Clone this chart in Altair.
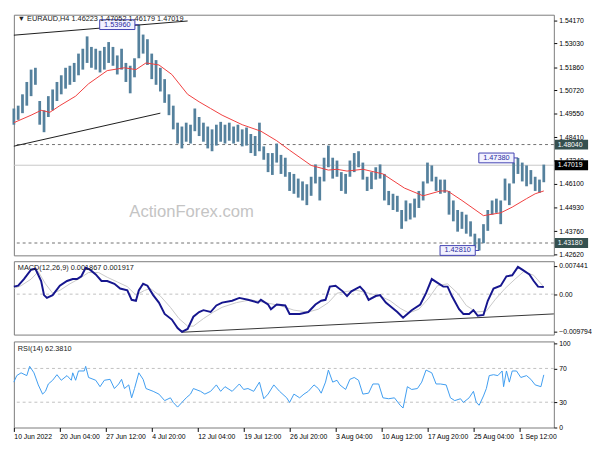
import altair as alt
import pandas as pd

# ---------------- data ----------------
# price bars (every 3rd H4 bar), high / low
bar_high = [
    1.4982, 1.4996, 1.5052, 1.5113, 1.5174, 1.5183, 1.5019, 1.4973, 1.5043, 1.5076,
    1.5113, 1.5146, 1.5183, 1.5193, 1.5207, 1.5253, 1.5277, 1.5338, 1.5286, 1.5277,
    1.5267, 1.5286, 1.5310, 1.5286, 1.5244, 1.5277, 1.5207, 1.5193, 1.5230, 1.5396,
    1.5347, 1.5324, 1.5253, 1.5221, 1.5183, 1.5127, 1.5052, 1.4996, 1.4912, 1.4893,
    1.4912, 1.4902, 1.4982, 1.4940, 1.4912, 1.4893, 1.4879, 1.4902, 1.4916, 1.4902,
    1.4912, 1.4893, 1.4902, 1.4879, 1.4888, 1.4856, 1.4846, 1.4912, 1.4795, 1.4762,
    1.4762, 1.4809, 1.4753, 1.4739, 1.4668, 1.4659, 1.4636, 1.4622, 1.4608, 1.4645,
    1.4706, 1.4645, 1.4739, 1.4799, 1.4739, 1.4725, 1.4668, 1.4659, 1.4725, 1.4762,
    1.4771, 1.4715, 1.4645, 1.4668, 1.4692, 1.4706, 1.4659, 1.4575, 1.4561, 1.4551,
    1.4481, 1.4528, 1.4514, 1.4537, 1.4575, 1.4622, 1.4715, 1.4701, 1.4645, 1.4631,
    1.4631, 1.4575, 1.4528, 1.4481, 1.4472, 1.4458, 1.4425, 1.4364, 1.4341, 1.4411,
    1.4481, 1.4528, 1.4537, 1.4528, 1.4636, 1.4612, 1.4715, 1.4738, 1.4715, 1.4701,
    1.4678, 1.4645, 1.4631, 1.4705]
bar_low = [
    1.4902, 1.4926, 1.4959, 1.4996, 1.5043, 1.5099, 1.4902, 1.4865, 1.4940, 1.4973,
    1.5019, 1.5052, 1.5080, 1.5099, 1.5113, 1.5146, 1.5174, 1.5207, 1.5183, 1.5174,
    1.5160, 1.5174, 1.5207, 1.5193, 1.5150, 1.5174, 1.5113, 1.5057, 1.5136, 1.5230,
    1.5253, 1.5197, 1.5127, 1.5099, 1.5066, 1.5010, 1.4949, 1.4879, 1.4809, 1.4785,
    1.4818, 1.4809, 1.4870, 1.4846, 1.4818, 1.4785, 1.4771, 1.4799, 1.4818, 1.4809,
    1.4823, 1.4809, 1.4818, 1.4795, 1.4799, 1.4762, 1.4748, 1.4771, 1.4729, 1.4668,
    1.4654, 1.4715, 1.4659, 1.4645, 1.4575, 1.4561, 1.4542, 1.4528, 1.4505, 1.4551,
    1.4612, 1.4528, 1.4622, 1.4692, 1.4636, 1.4645, 1.4575, 1.4561, 1.4645, 1.4668,
    1.4692, 1.4631, 1.4575, 1.4584, 1.4631, 1.4636, 1.4528, 1.4505, 1.4481, 1.4472,
    1.4388, 1.4425, 1.4434, 1.4444, 1.4491, 1.4528, 1.4612, 1.4622, 1.4575, 1.4561,
    1.4566, 1.4458, 1.4425, 1.4374, 1.4388, 1.4364, 1.4350, 1.4294, 1.4281, 1.4317,
    1.4378, 1.4458, 1.4467, 1.4411, 1.4528, 1.4505, 1.4612, 1.4659, 1.4622, 1.4598,
    1.4608, 1.4575, 1.4566, 1.4618]
BAR_STEP = 3  # H4 bars between two drawn bars

# moving average (bar index, price)
ma_points = [
    (0, 1.4912), (12, 1.4949), (19, 1.4973), (25, 1.4963), (32, 1.4996), (43, 1.5043),
    (52, 1.5104), (65, 1.5169), (77, 1.5183), (85, 1.5174), (92, 1.5207), (101, 1.5197),
    (110, 1.5150), (121, 1.5052), (129, 1.5015), (137, 1.4982), (145, 1.4949), (159, 1.4902),
    (172, 1.4870), (183, 1.4823), (192, 1.4776), (207, 1.4701), (219, 1.4678), (225, 1.4682),
    (232, 1.4673), (243, 1.4682), (257, 1.4659), (272, 1.4589), (285, 1.4551), (297, 1.4575),
    (302, 1.4575), (312, 1.4528), (327, 1.4453), (339, 1.4467), (347, 1.4495), (357, 1.4537),
    (363, 1.4561), (369, 1.4575)]

# MACD main line (bar index, value)
macd_points = [
    (0, 0.00198), (3, 0.00223), (7, 0.00397), (12, 0.00645), (15, 0.00670), (19, 0.00347),
    (21, -0.00025), (23, -0.00099), (27, -0.00025), (32, 0.00223), (37, 0.00347), (41, 0.00397),
    (44, 0.00397), (47, 0.00471), (50, 0.00694), (53, 0.00645), (57, 0.00521), (61, 0.00347),
    (65, 0.00347), (70, 0.00273), (74, 0.00149), (79, 0.00099), (82, -0.00149), (85, -0.00174),
    (87, 0.00099), (90, 0.00273), (93, 0.00223), (97, -0.00025), (101, -0.00223), (105, -0.00521),
    (110, -0.00670), (114, -0.00893), (117, -0.00992), (121, -0.00918), (125, -0.00595),
    (129, -0.00471), (132, -0.00422), (137, -0.00471), (141, -0.00298), (145, -0.00223),
    (152, -0.00174), (157, -0.00099), (163, -0.00149), (170, -0.00223), (172, -0.00149),
    (177, -0.00273), (179, -0.00397), (183, -0.00273), (189, -0.00298), (192, -0.00521),
    (199, -0.00521), (205, -0.00471), (210, -0.00273), (214, -0.00174), (217, -0.00149),
    (220, 0.00198), (224, 0.00223), (229, 0.00074), (232, -0.00050), (235, 0.00074),
    (241, 0.00198), (244, 0.00074), (247, -0.00149), (252, -0.00050), (255, -0.00025),
    (259, -0.00223), (263, -0.00347), (267, -0.00471), (271, -0.00620), (274, -0.00521),
    (277, -0.00422), (283, -0.00273), (287, 0.00025), (291, 0.00397), (294, 0.00322),
    (299, 0.00198), (302, 0.00198), (305, -0.00050), (310, -0.00397), (313, -0.00521),
    (317, -0.00521), (320, -0.00422), (323, -0.00570), (327, -0.00546), (330, -0.00174),
    (334, 0.00149), (339, 0.00223), (343, 0.00471), (347, 0.00496), (351, 0.00719),
    (354, 0.00645), (359, 0.00521), (362, 0.00347), (365, 0.00198), (369, 0.00187)]

# MACD signal line (bar index, value)
signal_points = [
    (0, 0.00149), (5, 0.00223), (12, 0.00397), (17, 0.00595), (22, 0.00273), (27, 0.00025),
    (32, 0.00099), (39, 0.00273), (45, 0.00397), (52, 0.00570), (59, 0.00570), (65, 0.00446),
    (72, 0.00322), (79, 0.00198), (85, -0.00025), (91, 0.00099), (95, 0.00149), (102, -0.00050),
    (109, -0.00347), (115, -0.00645), (121, -0.00843), (125, -0.00843), (132, -0.00645),
    (139, -0.00471), (145, -0.00347), (155, -0.00223), (165, -0.00149), (175, -0.00223),
    (185, -0.00298), (195, -0.00422), (205, -0.00471), (212, -0.00397), (219, -0.00223),
    (225, 0.00025), (232, 0.00074), (239, 0.00099), (247, 0.00025), (255, -0.00050),
    (262, -0.00174), (269, -0.00372), (275, -0.00496), (282, -0.00397), (289, -0.00099),
    (295, 0.00223), (302, 0.00273), (309, 0.00025), (315, -0.00298), (322, -0.00471),
    (329, -0.00446), (335, -0.00149), (342, 0.00149), (349, 0.00397), (355, 0.00595),
    (362, 0.00496), (369, 0.00192)]

# RSI(14) (bar index, value)
rsi_points = [
    (0, 53.8), (2, 61.5), (5, 64.8), (9, 61.5), (11, 72.5), (14, 64.8), (17, 50.5), (20, 39.6),
    (22, 42.9), (24, 51.6), (27, 56.0), (30, 62.6), (33, 56.0), (37, 61.5), (40, 56.0),
    (41, 64.8), (43, 56.0), (45, 67.0), (49, 67.0), (50, 72.5), (52, 59.3), (57, 56.0),
    (60, 48.4), (63, 56.0), (67, 57.1), (70, 46.2), (73, 51.6), (75, 57.1), (77, 46.2),
    (80, 50.5), (82, 35.2), (84, 46.2), (87, 64.8), (90, 57.1), (92, 46.2), (97, 42.9),
    (101, 39.6), (105, 31.9), (109, 35.2), (111, 29.7), (114, 24.2), (117, 29.7), (120, 35.2),
    (123, 39.6), (125, 46.2), (130, 42.9), (133, 39.6), (137, 42.9), (141, 50.5), (144, 42.9),
    (147, 48.4), (152, 42.9), (157, 51.6), (160, 45.1), (163, 46.2), (167, 42.9), (171, 53.8),
    (174, 34.1), (177, 39.6), (181, 50.5), (185, 42.9), (190, 35.2), (192, 29.7), (195, 39.6),
    (199, 35.2), (202, 39.6), (205, 42.9), (209, 50.5), (212, 46.2), (214, 40.7), (217, 53.8),
    (219, 68.1), (222, 53.8), (225, 56.0), (227, 50.5), (231, 45.1), (234, 57.1), (237, 59.3),
    (240, 56.0), (243, 39.6), (247, 40.7), (250, 51.6), (254, 51.6), (257, 35.2), (261, 34.1),
    (265, 35.2), (269, 26.4), (271, 23.1), (274, 48.4), (277, 45.1), (281, 46.2), (284, 53.8),
    (287, 68.1), (291, 64.8), (294, 51.6), (297, 51.6), (301, 50.5), (304, 35.2), (307, 31.9),
    (311, 34.1), (313, 29.7), (317, 35.2), (320, 42.9), (322, 29.7), (324, 26.4), (327, 37.4),
    (329, 46.2), (331, 61.5), (334, 62.6), (337, 61.5), (340, 67.0), (341, 48.4), (343, 67.0),
    (345, 53.8), (347, 67.0), (350, 67.0), (353, 59.3), (357, 61.5), (360, 57.1), (363, 50.5),
    (367, 48.4), (369, 62.4)]

# trend lines (id, bar index, value)
price_trend = [("up", 0, 1.5344), ("up", 121, 1.5414), ("lo", 0, 1.4796), ("lo", 102, 1.4959)]
macd_trend = [("m", 117, -0.01004), ("m", 376, -0.00521)]

# marked extremes
ext_index = [87, 351, 324]
ext_price = [1.5396, 1.4738, 1.4281]
ext_text = ["1.53960", "1.47380", "1.42810"]

# horizontal levels
dashed_levels = [1.4804, 1.4318]
last_price = 1.47019
level_price = [1.4804, 1.47019, 1.4318]
level_text = ["1.48040", "1.47019", "1.43180"]
level_fill = ["#35504f", "#000000", "#35504f"]

price_ticks = [1.5417, 1.5303, 1.5186, 1.5072, 1.4955, 1.4841, 1.4724, 1.4610, 1.4493, 1.4376, 1.4262]
macd_ticks = [0.007441, 0.0, -0.009794]
rsi_ticks = [100, 70, 30, 0]
rsi_levels = [70, 30]

x_ticks = [0, 32, 64, 96, 128, 160, 192, 224, 256, 288, 320, 352]
x_labels = ["10 Jun 2022", "20 Jun 04:00", "27 Jun 12:00", "4 Jul 20:00", "12 Jul 04:00",
            "19 Jul 12:00", "26 Jul 20:00", "3 Aug 04:00", "10 Aug 12:00", "17 Aug 20:00",
            "25 Aug 04:00", "1 Sep 12:00"]

header_main = "\u25bc  EURAUD,H4  1.46223 1.47052 1.46179 1.47019"
header_macd = "MACD(12,26,9) 0.001867 0.001917"
header_rsi = "RSI(14) 62.3810"
watermark = "ActionForex.com"

# ---------------- chart ----------------
W = 552
H_MAIN, H_MACD, H_RSI = 246, 75, 88
FONT = "Liberation Sans"

bars = pd.DataFrame({"i": [BAR_STEP * k for k in range(len(bar_high))],
                     "high": bar_high, "low": bar_low})
ma = pd.DataFrame(ma_points, columns=["i", "v"])
macd = pd.DataFrame(macd_points, columns=["i", "v"])
sig = pd.DataFrame(signal_points, columns=["i", "v"])
rsi = pd.DataFrame(rsi_points, columns=["i", "v"])
ptrend = pd.DataFrame(price_trend, columns=["id", "i", "v"])
mtrend = pd.DataFrame(macd_trend, columns=["id", "i", "v"])
ext = pd.DataFrame({"i": ext_index, "v": ext_price, "t": ext_text})
lev = pd.DataFrame({"v": level_price, "t": level_text, "fill": level_fill})

xs = alt.Scale(domain=[0, 376], nice=False, zero=False)
X_NONE = alt.X("i:Q", scale=xs, axis=None)

label_arr = "[" + ",".join("'" + s + "'" for s in x_labels) + "]"
x_axis = alt.Axis(values=x_ticks, labelExpr=label_arr + "[round(datum.value/32)]",
                  orient="bottom", tickSize=4, labelAlign="left", labelPadding=1,
                  labelFontSize=7, labelColor="black", tickColor="black", domain=False,
                  grid=False, labelFlush=False, labelOverlap=False, labelBound=False, title=None)
X_AX = alt.X("i:Q", scale=xs, axis=x_axis)

p_scale = alt.Scale(domain=[1.4257, 1.5445], nice=False, zero=False)
p_axis = alt.Axis(orient="right", values=price_ticks, format=".5f", tickSize=3,
                  labelFontSize=7, labelColor="black", tickColor="black", domain=False,
                  grid=False, title=None, labelPadding=2)


def PY(f):
    return alt.Y(f, type="quantitative", scale=p_scale, axis=p_axis)


def text_layer(txt, x, y, size=7.5, color="#202020", **kw):
    return alt.Chart(pd.DataFrame({"t": [txt]})).mark_text(
        align="left", baseline="middle", fontSize=size, color=color, font=FONT, **kw
    ).encode(x=alt.value(x), y=alt.value(y), text="t:N")


main = alt.layer(
    text_layer(watermark, 118, 202, size=17, color="#c4c4c4"),
    alt.Chart(pd.DataFrame({"v": dashed_levels})).mark_rule(
        color="#707070", strokeDash=[3, 3], strokeWidth=1).encode(y=PY("v")),
    alt.Chart(pd.DataFrame({"v": [last_price]})).mark_rule(
        color="#c8c8c8", strokeWidth=1).encode(y=PY("v")),
    alt.Chart(bars).mark_rule(color="#55819d", strokeWidth=2.8).encode(
        x=X_NONE, y=PY("low"), y2="high:Q"),
    alt.Chart(ma).mark_line(color="#f03c3c", strokeWidth=1).encode(x=X_NONE, y=PY("v")),
    alt.Chart(ptrend).mark_line(color="#1a1a1a", strokeWidth=1).encode(
        x=X_NONE, y=PY("v"), detail="id:N"),
    alt.Chart(ext).mark_rule(color="#3f3fb0", strokeWidth=1, xOffset=-4, x2Offset=0).encode(
        x=X_NONE, x2="i:Q", y=PY("v")),
    alt.Chart(ext).mark_rect(fill="#f2f2ff", stroke="#3f3fb0", strokeWidth=1,
                             xOffset=-40, x2Offset=-4, yOffset=-5, y2Offset=5).encode(
        x=X_NONE, x2="i:Q", y=PY("v"), y2="v:Q"),
    alt.Chart(ext).mark_text(dx=-22, fontSize=7.5, color="#2a2aa0", font=FONT,
                             align="center", baseline="middle").encode(
        x=X_NONE, y=PY("v"), text="t:N"),
    alt.Chart(lev).mark_rect(yOffset=-5, y2Offset=5).encode(
        x=alt.value(W + 1), x2=alt.value(W + 35), y=PY("v"), y2="v:Q",
        fill=alt.Color("fill:N", scale=None)),
    alt.Chart(lev).mark_text(align="left", baseline="middle", fontSize=7, color="white",
                             font=FONT).encode(x=alt.value(W + 4), y=PY("v"), text="t:N"),
    text_layer(header_main, 4, 4.5),
).properties(width=W, height=H_MAIN)

m_scale = alt.Scale(domain=[-0.01066, 0.00868], nice=False, zero=False)
m_axis = alt.Axis(orient="right", values=macd_ticks,
                  labelExpr="datum.value == 0 ? '0.00' : format(datum.value, '.6f')",
                  tickSize=3, labelFontSize=7, labelColor="black", tickColor="black",
                  domain=False, grid=False, title=None, labelPadding=2)


def MY(f):
    return alt.Y(f, type="quantitative", scale=m_scale, axis=m_axis)


macd_panel = alt.layer(
    alt.Chart(pd.DataFrame({"v": [0.0]})).mark_rule(
        color="#c0c0c0", strokeDash=[3, 3], strokeWidth=1).encode(y=MY("v")),
    alt.Chart(mtrend).mark_line(color="#333333", strokeWidth=1).encode(x=X_NONE, y=MY("v")),
    alt.Chart(sig).mark_line(color="#c8c8c8", strokeWidth=1).encode(x=X_NONE, y=MY("v")),
    alt.Chart(macd).mark_line(color="#16168e", strokeWidth=2).encode(x=X_NONE, y=MY("v")),
    text_layer(header_macd, 4, 7),
).properties(width=W, height=H_MACD)

r_scale = alt.Scale(domain=[0, 102], nice=False, zero=False)
r_axis = alt.Axis(orient="right", values=rsi_ticks, format="d", tickSize=3,
                  labelFontSize=7, labelColor="black", tickColor="black",
                  domain=False, grid=False, title=None, labelPadding=2)


def RY(f):
    return alt.Y(f, type="quantitative", scale=r_scale, axis=r_axis)


rsi_panel = alt.layer(
    alt.Chart(pd.DataFrame({"v": rsi_levels})).mark_rule(
        color="#c0c0c0", strokeDash=[3, 3], strokeWidth=1).encode(y=RY("v")),
    alt.Chart(rsi).mark_line(color="#3c9cf0", strokeWidth=1).encode(x=X_AX, y=RY("v")),
    text_layer(header_rsi, 4, 8),
).properties(width=W, height=H_RSI)

chart = alt.vconcat(main, macd_panel, rsi_panel, spacing=2).properties(
    padding={"left": 1, "top": 1, "right": 0, "bottom": 0},
    background="white",
).configure_view(stroke="#7a7a7a", strokeWidth=1).configure_axis(
    labelFont=FONT)

chart.save("out.html", embed_options={"renderer": "svg", "actions": False})
